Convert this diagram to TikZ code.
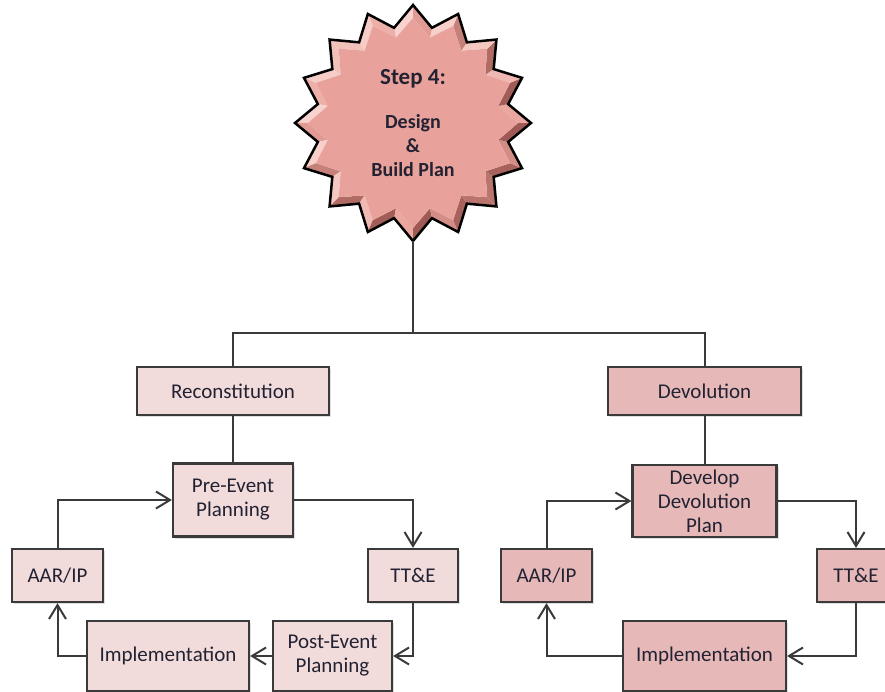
\documentclass[tikz,border=0pt]{standalone}
\usepackage{fontspec}
\setmainfont{Carlito}
\usetikzlibrary{shapes.geometric,arrows.meta,shadows}
\definecolor{recfill}{HTML}{F2DCDB}
\definecolor{devfill}{HTML}{E6B9B8}
\definecolor{starmid}{HTML}{E8A29B}
\definecolor{starlight}{HTML}{F8D2CC}
\definecolor{stardark}{HTML}{A05A55}
\definecolor{edge}{HTML}{3A3A3A}
\definecolor{txt}{HTML}{222233}
\begin{document}
\begin{tikzpicture}[x=1pt,y=-1pt,
  box/.style={draw=edge, line width=2.2pt, inner sep=0pt, align=center,
    font=\fontsize{21}{24}\selectfont, text=txt,
    drop shadow={shadow xshift=2pt, shadow yshift=-2pt, opacity=0.25}},
  recbox/.style={box, fill=recfill},
  devbox/.style={box, fill=devfill},
  conn/.style={draw=edge, line width=2pt},
  arr/.style={conn, -{Straight Barb[length=14pt,width=17pt]}},
]
\useasboundingbox (0,0) rectangle (885,692);

% ---- star with bevel ----
\begin{scope}[shift={(413,123)}, y=1pt]
  \foreach \i in {0,...,31} {
    \pgfmathsetmacro{\aA}{90+\i*11.25}
    \pgfmathsetmacro{\aB}{90+(\i+1)*11.25}
    \pgfmathtruncatemacro{\ev}{mod(\i,2)==0}
    \ifnum\ev=1
      \def\rA{118}\def\rB{97}\def\sA{105}\def\sB{87}
    \else
      \def\rA{97}\def\rB{118}\def\sA{87}\def\sB{105}
    \fi
    \pgfmathsetmacro{\dx}{\rB*cos(\aB)-\rA*cos(\aA)}
    \pgfmathsetmacro{\dy}{\rB*sin(\aB)-\rA*sin(\aA)}
    \pgfmathsetmacro{\ph}{atan2(-\dx,\dy)}
    \pgfmathsetmacro{\lv}{cos(\ph-135)}
    \pgfmathsetmacro{\pc}{abs(\lv)*100}
    \pgfmathtruncatemacro{\pos}{\lv>0}
    \ifnum\pos=1 \def\fc{starlight!\pc!starmid}\else\def\fc{stardark!\pc!starmid}\fi
    \fill[fill=\fc] (\aA:\rA) -- (\aB:\rB) -- (\aB:\sB) -- (\aA:\sA) -- cycle;
  }
  \fill[starmid] (90:105) \foreach \i in {1,...,31} { -- ({90+\i*11.25}:{mod(\i,2)==0 ? 105 : 87}) } -- cycle;
\end{scope}
\node[star, star points=16, star point ratio=1.2165, minimum size=236pt,
      inner sep=0pt, outer sep=0pt, draw=black, line width=2.5pt] (star) at (413,123) {};
\node[font=\bfseries\fontsize{23}{26}\selectfont, text=txt] (steptitle) at (413,79) {Step 4:};
\node[font=\bfseries\fontsize{20}{24}\selectfont, text=txt, align=center] (stepbody) at (413,146) {Design\\\&\\Build Plan};

% ---- boxes ----
\node[recbox, minimum width=192pt, minimum height=48pt] (rec) at (233,391) {Reconstitution};
\node[devbox, minimum width=193pt, minimum height=48pt] (dev) at (704.5,391) {Devolution};

\node[recbox, minimum width=120pt, minimum height=73pt] (pre) at (233,500) {Pre-Event\\Planning};
\node[recbox, minimum width=91pt, minimum height=53pt] (aarL) at (57.5,575.5) {AAR/IP};
\node[recbox, minimum width=90pt, minimum height=53pt] (ttL) at (413,575.5) {TT\&E};
\node[recbox, minimum width=119pt, minimum height=70pt] (post) at (332.5,656) {Post-Event\\Planning};
\node[recbox, minimum width=162pt, minimum height=70pt] (impL) at (168,656) {Implementation};

\node[devbox, minimum width=144pt, minimum height=72pt] (devp) at (704.5,501) {Develop\\Devolution\\Plan};
\node[devbox, minimum width=91pt, minimum height=53pt] (aarR) at (546.5,575.5) {AAR/IP};
\node[devbox, minimum width=78pt, minimum height=53pt] (ttR) at (856,575.5) {TT\&E};
\node[devbox, minimum width=163pt, minimum height=70pt] (impR) at (704.5,656) {Implementation};

% ---- connectors ----
\coordinate (jn) at (413,333);
\draw[conn] (star.south) -- (jn);
\draw[conn] (rec.north) |- (jn) -| (dev.north);
\draw[conn] (rec.south) -- (pre.north);
\draw[conn] (dev.south) -- (devp.north);

\draw[arr] (aarL.north) |- (pre.west);
\draw[arr] (pre.east) -| (ttL.north);
\draw[arr] (ttL.south) |- (post.east);
\draw[arr] (post.west) -- (impL.east);
\draw[arr] (impL.west) -| (aarL.south);

\draw[arr] (aarR.north) |- (devp.west);
\draw[arr] (devp.east) -| (ttR.north);
\draw[arr] (ttR.south) |- (impR.east);
\draw[arr] (impR.west) -| (aarR.south);
\end{tikzpicture}
\end{document}
